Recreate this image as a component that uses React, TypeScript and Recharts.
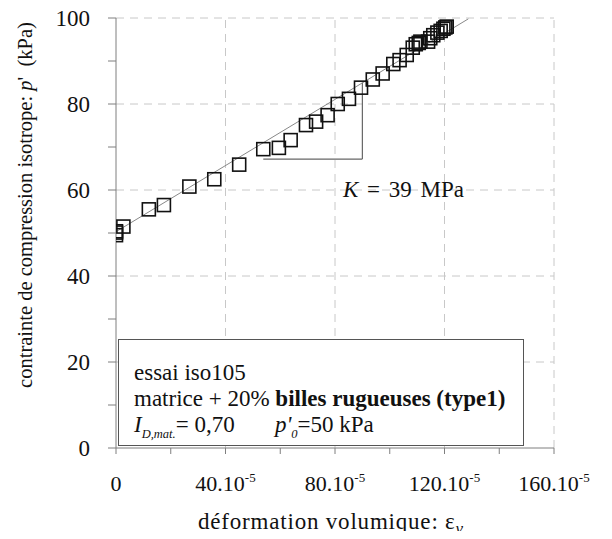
import React from 'react';
import { ScatterChart, Scatter, XAxis, YAxis, ReferenceLine, Label } from 'recharts';

// volumetric strain (x 1e-5) and mean effective stress p' (kPa)
const strainX = [0, 0, 0, 2.7, 12.0, 17.5, 26.8, 35.9, 45.0, 53.8, 59.5, 63.8, 69.4, 73.1, 77.3, 81.0, 85.1, 89.5, 93.8, 97.4, 101.3, 103.6, 106.2, 108.4, 109.5, 110.6, 111.2, 114.0, 114.8, 115.9, 117.4, 118.6, 119.6, 120.3, 120.8];
const pressureY = [49.5, 50.1, 50.4, 51.5, 55.5, 56.5, 60.8, 62.5, 65.9, 69.5, 69.8, 71.6, 75.1, 75.9, 77.4, 80.0, 81.2, 83.8, 85.7, 87.1, 89.3, 90.2, 91.4, 93.1, 93.9, 94.2, 94.5, 94.5, 95.3, 96.0, 96.6, 97.0, 97.5, 97.8, 98.0];

// fitted line (K = 39 MPa)
const trendX = [0, 128.7];
const trendY = [50.3, 99.8];

// slope triangle
const slopeX = [53.8, 90, 90];
const slopeY = [67.2, 67.2, 85.0];

const xTicks = [0, 20, 40, 60, 80, 100, 120, 140, 160];
const yTicks = [0, 10, 20, 30, 40, 50, 60, 70, 80, 90, 100];
const gridX = [40, 80, 120, 160];
const gridY = [20, 40, 60, 80, 100];

const points = strainX.map((x, i) => ({ x, y: pressureY[i] }));
const trend = trendX.map((x, i) => ({ x, y: trendY[i] }));

const FONT = '"Liberation Serif", "Times New Roman", serif';
const AXIS = '#7f7f7f';

const Square = (props: any) => {
  const { cx, cy } = props;
  if (cx == null || cy == null) return null;
  return <rect x={cx - 6.5} y={cy - 6.5} width={13} height={13} fill="none" stroke="#111" strokeWidth={1.6} />;
};

const XTick = (props: any) => {
  const { x, y, payload } = props;
  const v = payload.value;
  if (v % 40 !== 0) return null;
  return (
    <text x={x} y={y + 37} textAnchor="middle" fontFamily={FONT} fontSize={22} fill="#111">
      {v === 0 ? '0' : (
        <>
          {v}.10<tspan dy={-9} fontSize={13}>-5</tspan>
        </>
      )}
    </text>
  );
};

const YTick = (props: any) => {
  const { x, y, payload } = props;
  const v = payload.value;
  if (v % 20 !== 0) return null;
  return (
    <text x={x} y={y + 8} textAnchor="end" fontFamily={FONT} fontSize={23} fill="#111">
      {v}
    </text>
  );
};

const YTitle = () => (
  <text x={25} y={205} transform="rotate(-90 25 205)" textAnchor="middle" dominantBaseline="central" fontFamily={FONT} fontSize={20.5} fill="#111">
    contrainte de compression isotrope: <tspan fontStyle="italic">p</tspan>'{'\u00a0\u00a0'}(kPa)
  </text>
);

const XTitle = () => (
  <text x={331} y={529} textAnchor="middle" fontFamily={FONT} fontSize={23} letterSpacing={0.8} fill="#111">
    déformation volumique: ε<tspan dy={5} fontStyle="italic" fontSize={17}>v</tspan>
  </text>
);

export default function App() {
  const sub = { fontSize: 12.5, verticalAlign: 'sub' as const, fontStyle: 'italic' as const };
  return (
    <div style={{ position: 'relative', width: 612, height: 539, margin: -8, fontFamily: FONT }}>
      <ScatterChart width={612} height={539} margin={{ top: 18, right: 58, bottom: 31, left: 56 }}>
        {gridX.map((v) => (
          <ReferenceLine key={'gx' + v} x={v} stroke="#c8c8c8" strokeDasharray="8 6" />
        ))}
        {gridY.map((v) => (
          <ReferenceLine key={'gy' + v} y={v} stroke="#c8c8c8" strokeDasharray="8 6" />
        ))}
        <XAxis
          type="number"
          dataKey="x"
          domain={[0, 160]}
          ticks={xTicks}
          height={60}
          tickSize={6}
          tickMargin={0}
          stroke={AXIS}
          tick={<XTick />}
          allowDataOverflow
        >
          <Label content={<XTitle />} />
        </XAxis>
        <YAxis
          type="number"
          dataKey="y"
          domain={[0, 100]}
          ticks={yTicks}
          width={60}
          tickSize={8}
          tickMargin={18}
          stroke={AXIS}
          tick={<YTick />}
          allowDataOverflow
        >
          <Label content={<YTitle />} />
        </YAxis>
        <ReferenceLine segment={[{ x: slopeX[0], y: slopeY[0] }, { x: slopeX[1], y: slopeY[1] }]} stroke="#666" strokeWidth={1.2} />
        <ReferenceLine segment={[{ x: slopeX[1], y: slopeY[1] }, { x: slopeX[2], y: slopeY[2] }]} stroke="#666" strokeWidth={1.2} />
        <Scatter data={trend} line={{ stroke: '#888', strokeWidth: 1 }} shape={() => null} isAnimationActive={false} />
        <Scatter data={points} shape={<Square />} isAnimationActive={false} />
      </ScatterChart>

      <div style={{ position: 'absolute', left: 343, top: 178, fontSize: 23, lineHeight: '24px', color: '#111', whiteSpace: 'nowrap', wordSpacing: 3 }}>
        <i>K</i> = 39 MPa
      </div>

      <div
        style={{
          position: 'absolute',
          left: 118,
          top: 339,
          width: 406,
          height: 107,
          border: '1px solid #555',
          background: '#fff',
          fontSize: 23,
          lineHeight: '26px',
          color: '#111',
          padding: '20px 0 0 15px',
          boxSizing: 'border-box',
          whiteSpace: 'nowrap',
        }}
      >
        <div>essai iso105</div>
        <div>
          matrice + 20% <b>billes rugueuses (type1)</b>
        </div>
        <div>
          <i>I</i>
          <span style={sub}>D,mat.</span>= 0,70&nbsp;&nbsp;&nbsp;&nbsp;&nbsp;&nbsp;&nbsp;<i>p'</i>
          <span style={sub}>0</span>=50 kPa
        </div>
      </div>
    </div>
  );
}
